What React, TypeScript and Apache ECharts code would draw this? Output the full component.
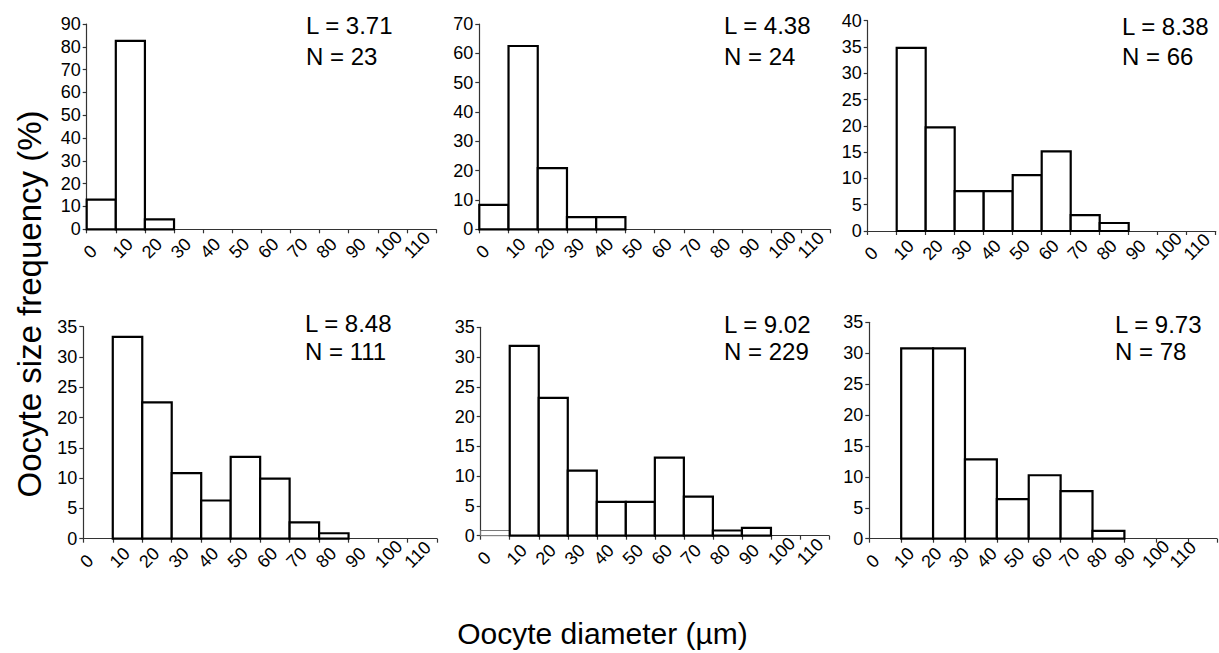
import React, { useEffect, useRef } from "react";
import * as echarts from "echarts";

// ---- data ----
const binEdges = [0, 10, 20, 30, 40, 50, 60, 70, 80, 90, 100, 110, 120];
const xTickLabels = ["0", "10", "20", "30", "40", "50", "60", "70", "80", "90", "100", "110"];

const panelL = ["3.71", "4.38", "8.38", "8.48", "9.02", "9.73"];
const panelN = [23, 24, 66, 111, 229, 78];

const freqL371 = [13.04, 82.61, 4.35, 0, 0, 0, 0, 0, 0, 0, 0, 0];
const freqL438 = [8.33, 62.5, 20.83, 4.17, 4.17, 0, 0, 0, 0, 0, 0, 0];
const freqL838 = [0, 34.85, 19.7, 7.58, 7.58, 10.61, 15.15, 3.03, 1.52, 0, 0, 0];
const freqL848 = [0, 33.33, 22.52, 10.81, 6.31, 13.51, 9.91, 2.7, 0.9, 0, 0, 0];
const freqL902 = [0.87, 31.88, 23.14, 10.92, 5.68, 5.68, 13.1, 6.55, 0.87, 1.31, 0, 0];
const freqL973 = [0, 30.77, 30.77, 12.82, 6.41, 10.26, 7.69, 1.28, 0, 0, 0, 0];

const yMax = [90, 70, 40, 35, 35, 35];
const yStep = [10, 10, 5, 5, 5, 5];

const xAxisTitle = "Oocyte diameter (\u00b5m)";
const yAxisTitle = "Oocyte size frequency (%)";

// ---- layout ----
const grids = [
  { left: 86.7, top: 24, width: 349.3, height: 205.3 },
  { left: 479.3, top: 24, width: 350.7, height: 205.3 },
  { left: 867.7, top: 20.7, width: 348, height: 210.3 },
  { left: 83.3, top: 326.7, width: 353.7, height: 212 },
  { left: 480.7, top: 327.3, width: 348.3, height: 208.4 },
  { left: 869.3, top: 322.3, width: 350, height: 216.4 },
];
const xMaxes = [120, 120, 120, 120, 120, 109];
const annot = [
  { x: 306, yL: 25.5, yN: 56.5 },
  { x: 724, yL: 25.5, yN: 56.5 },
  { x: 1122, yL: 26, yN: 56.5 },
  { x: 305, yL: 323.5, yN: 351.5 },
  { x: 724, yL: 324, yN: 351.5 },
  { x: 1115, yL: 324, yN: 351.5 },
];

const narrowFont = "'Liberation Sans Narrow', 'Arial Narrow', 'Liberation Sans', Arial, sans-serif";
const mainFont = "'Liberation Sans', Arial, Helvetica, sans-serif";

export default function App() {
  const ref = useRef<HTMLDivElement>(null);
  useEffect(() => {
    if (!ref.current) return;
    const chart = echarts.init(ref.current, undefined, { renderer: "svg" });
    const allFreq = [freqL371, freqL438, freqL838, freqL848, freqL902, freqL973];

    const xAxes: any[] = [];
    const yAxes: any[] = [];
    const series: any[] = [];

    grids.forEach((g, i) => {
      xAxes.push({
        type: "value",
        gridIndex: i,
        min: 0,
        max: xMaxes[i],
        interval: 10,
        splitLine: { show: false },
        axisLine: { show: true, onZero: false, lineStyle: { color: "#333", width: 1.2 } },
        axisTick: { show: true, length: 4, lineStyle: { color: "#333", width: 1.2 } },
        axisLabel: {
          show: i !== 5,
          rotate: 45,
          align: "left",
          verticalAlign: "middle",
          margin: 26,
          color: "#000",
          fontSize: 18,
          fontFamily: narrowFont,
          showMaxLabel: true,
          formatter: (v: number) => {
            const idx = binEdges.indexOf(v);
            return idx >= 0 && idx < xTickLabels.length ? xTickLabels[idx] : "";
          },
        },
      });
      yAxes.push({
        type: "value",
        gridIndex: i,
        min: 0,
        max: yMax[i],
        interval: yStep[i],
        splitLine: { show: false },
        axisLine: { show: true, lineStyle: { color: "#333", width: 1.2 } },
        axisTick: { show: true, length: 4, lineStyle: { color: "#333", width: 1.2 } },
        axisLabel: { color: "#000", fontSize: 18, fontFamily: narrowFont, margin: 6 },
      });
      const vals = allFreq[i];
      series.push({
        type: "custom",
        xAxisIndex: i,
        yAxisIndex: i,
        encode: { x: [0, 1], y: 2 },
        data: vals.map((v, k) => [binEdges[k], binEdges[k + 1], v]),
        renderItem: (params: any, api: any) => {
          const lo = api.value(0);
          const hi = api.value(1);
          const v = api.value(2);
          if (!v) return null;
          const p1 = api.coord([lo, v]);
          const p2 = api.coord([hi, 0]);
          const thin = i === 4 && params.dataIndex === 0;
          return {
            type: "rect",
            shape: { x: p1[0], y: p1[1], width: p2[0] - p1[0], height: p2[1] - p1[1] },
            style: {
              fill: "#fff",
              stroke: thin ? "#777" : "#000",
              lineWidth: thin ? 1 : 2.2,
            },
          };
        },
      });
    });

    // label-only axis for panel 6 (labels spaced differently from ticks)
    xAxes.push({
      type: "value",
      gridIndex: 5,
      min: 0,
      max: 126,
      interval: 10,
      position: "bottom",
      splitLine: { show: false },
      axisLine: { show: false, onZero: false },
      axisTick: { show: false },
      axisLabel: {
        rotate: 45,
        align: "left",
        verticalAlign: "middle",
        margin: 26,
        color: "#000",
        fontSize: 18,
        fontFamily: narrowFont,
        formatter: (v: number) => {
          const idx = binEdges.indexOf(v);
          return idx >= 0 && idx < xTickLabels.length ? xTickLabels[idx] : "";
        },
      },
    });

    const graphic: any[] = [];
    annot.forEach((a, i) => {
      graphic.push({
        type: "text",
        x: a.x,
        y: a.yL,
        style: { text: "L = " + panelL[i], font: "24px " + mainFont, fill: "#000", verticalAlign: "middle" },
      });
      graphic.push({
        type: "text",
        x: a.x,
        y: a.yN,
        style: { text: "N = " + panelN[i], font: "24px " + mainFont, fill: "#000", verticalAlign: "middle" },
      });
    });
    graphic.push({
      type: "text",
      x: 602.5,
      y: 633,
      style: { text: xAxisTitle, font: "30px " + mainFont, fill: "#000", align: "center", verticalAlign: "middle" },
    });
    graphic.push({
      type: "text",
      x: 29,
      y: 304,
      rotation: Math.PI / 2,
      style: { text: yAxisTitle, font: "33px " + mainFont, fill: "#000", align: "center", verticalAlign: "middle" },
    });

    chart.setOption({
      animation: false,
      backgroundColor: "#fff",
      grid: grids.map((g) => ({ ...g, containLabel: false })),
      xAxis: xAxes,
      yAxis: yAxes,
      series,
      graphic,
    });
    return () => chart.dispose();
  }, []);
  return (
    <div
      ref={ref}
      style={{ position: "fixed", left: 0, top: 0, width: 1219, height: 653, background: "#fff" }}
    />
  );
}
